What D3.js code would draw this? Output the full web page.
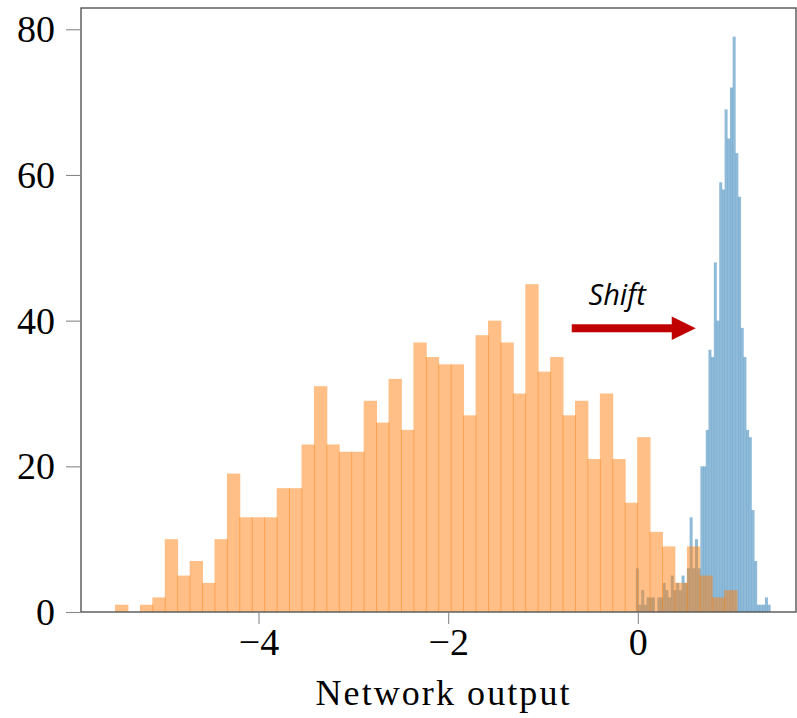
<!DOCTYPE html>
<html><head><meta charset="utf-8">
<script src="https://cdn.jsdelivr.net/npm/d3@7"></script>
<style>html,body{margin:0;padding:0;background:#fff;} svg{display:block;}</style>
</head><body><svg id="chart" width="797" height="718"></svg>
<script>
// ---- data ----
const orangeStart = -5.513;
const orangeBinWidth = 0.1311;
const orangeCounts = [1,0,1,2,10,5,7,4,10,19,13,13,13,17,17,23,31,23,22,22,29,26,32,25,37,35,34,34,27,38,40,37,30,45,33,35,27,29,21,30,21,15,24,11,9,4,9,5,2,3];
const blueStart = -0.0211;
const blueBinWidth = 0.02837;
const blueCounts = [6,1,3,1,2,2,2,0,2,2,4,3,2,5,3,4,3,5,4,6,13,6,10,6,20,20,25,36,35,48,40,59,58,69,65,72,79,63,57,39,35,25,24,14,7,1,1,1,2,1];
const xTicks = [-4, -2, 0];
const yTicks = [0, 20, 40, 60, 80];
const xDomain = [-5.872, 1.668];
const yDomain = [0, 82.92];
const xLabel = "Network output";
const annotationText = "Shift";
const annotationPos = [-0.52, 42.15];
const arrowFrom = [-0.697, 38.95];
const arrowTo = [0.611, 38.95];

// ---- layout ----
const W = 797, H = 718;
const margin = {left: 81, top: 8, right: 1, bottom: 106};
const svg = d3.select("#chart");
const x = d3.scaleLinear().domain(xDomain).range([margin.left, W - margin.right]);
const y = d3.scaleLinear().domain(yDomain).range([H - margin.bottom, margin.top]);

function bins(start, w, counts) {
  return counts.map((c, i) => ({x0: start + i * w, x1: start + (i + 1) * w, c}));
}

function drawHist(data, color, overlap) {
  svg.append("g").selectAll("rect").data(data.filter(d => d.c > 0)).join("rect")
    .attr("x", d => x(d.x0))
    .attr("width", d => x(d.x1) - x(d.x0) + overlap)
    .attr("y", d => y(d.c))
    .attr("height", d => y(0) - y(d.c))
    .attr("fill", color)
    .attr("fill-opacity", 0.5);
}

drawHist(bins(blueStart, blueBinWidth, blueCounts), "#1f77b4", 0.3);
drawHist(bins(orangeStart, orangeBinWidth, orangeCounts), "#ff7f0e", 0.9);

// ---- frame ----
const axisColor = "#555";
svg.append("rect")
  .attr("x", margin.left).attr("y", margin.top)
  .attr("width", W - margin.right - margin.left)
  .attr("height", H - margin.bottom - margin.top)
  .attr("fill", "none").attr("stroke", axisColor).attr("stroke-width", 1.4);

const serif = "'Liberation Serif', 'Times New Roman', serif";

// y axis
const yAxis = d3.axisLeft(y).tickValues(yTicks).tickSize(15).tickPadding(11)
  .tickFormat(d3.format("d"));
const gy = svg.append("g").attr("transform", `translate(${margin.left},0)`).call(yAxis);
gy.select(".domain").remove();
gy.selectAll(".tick line").attr("stroke", "#888").attr("stroke-width", 1.1);
gy.selectAll(".tick text").attr("font-family", serif).attr("font-size", 38).attr("fill", "#000")
  .attr("dy", "0.33em");

// x axis
const xAxis = d3.axisBottom(x).tickValues(xTicks).tickSize(12).tickPadding(4)
  .tickFormat(d3.format("d"));
const gx = svg.append("g").attr("transform", `translate(0,${H - margin.bottom})`).call(xAxis);
gx.select(".domain").remove();
gx.selectAll(".tick line").attr("stroke", "#888").attr("stroke-width", 1.1);
gx.selectAll(".tick text").attr("font-family", serif).attr("font-size", 38).attr("fill", "#000")
  .attr("dy", "0.72em");

svg.append("text")
  .attr("x", (margin.left + W - margin.right) / 2 + 4)
  .attr("y", 705)
  .attr("text-anchor", "middle")
  .attr("font-family", serif).attr("font-size", 36)
  .attr("textLength", 254).attr("lengthAdjust", "spacing")
  .text(xLabel);

// ---- annotation ----
const red = "#c00000";
const ay = y(arrowFrom[1]);
const headLen = 24, headHalf = 11.7, shaftHalf = 4;
const xs = x(arrowFrom[0]), xe = x(arrowTo[0]);
svg.append("rect")
  .attr("x", xs).attr("y", ay - shaftHalf)
  .attr("width", xe - headLen - xs + 0.5).attr("height", 2 * shaftHalf)
  .attr("fill", red);
svg.append("path")
  .attr("d", d3.line()([[xe - headLen, ay - headHalf], [xe, ay], [xe - headLen, ay + headHalf]]) + "Z")
  .attr("fill", red);
svg.append("text")
  .attr("x", x(annotationPos[0])).attr("y", y(annotationPos[1]))
  .attr("font-family", "'Open Sans', 'Noto Sans', sans-serif")
  .attr("font-style", "italic").attr("font-size", 29)
  .attr("fill", "#000")
  .text(annotationText);
</script>
</body></html>
